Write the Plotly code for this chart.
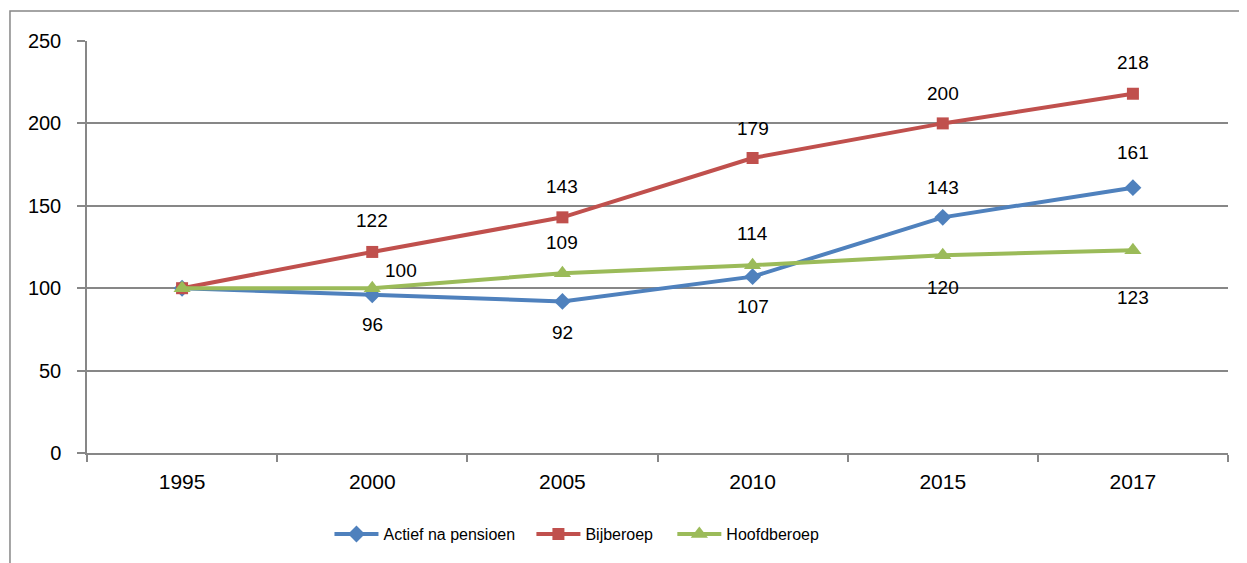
import plotly.graph_objects as go

years = ["1995", "2000", "2005", "2010", "2015", "2017"]
actief = [100, 96, 92, 107, 143, 161]
bijberoep = [100, 122, 143, 179, 200, 218]
hoofdberoep = [100, 100, 109, 114, 120, 123]

series_names = ["Actief na pensioen", "Bijberoep", "Hoofdberoep"]
series_values = [actief, bijberoep, hoofdberoep]
colors = ["#4F81BD", "#C0504D", "#9BBB59"]
symbols = ["diamond", "square", "triangle-up"]
msizes = [13, 12, 15]
legend_ids = ["legend", "legend2", "legend3"]
legend_x = [0.2125, 0.3895, 0.5130]

# label placement (styling): (xshift, yshift) per point; None = no label
label_shifts = [
    [None, (0, -30), (0, -31), (0, -30), (0, 30), (0, 35)],
    [None, (0, 31), (0, 31), (0, 30), (0, 30), (0, 31)],
    [None, (29, 18), (0, 31), (0, 32), (0, -32), (0, -47)],
]

FONT = "Liberation Sans, Arial, sans-serif"

fig = go.Figure()
for name, vals, c, s, ms, lg in zip(series_names, series_values, colors, symbols, msizes, legend_ids):
    fig.add_trace(go.Scatter(
        x=years, y=vals, name=name, mode="lines+markers",
        line=dict(color=c, width=4),
        marker=dict(symbol=s, size=ms, color=c),
        legend=lg,
    ))

annotations = []
for vals, shifts in zip(series_values, label_shifts):
    for i, (v, sh) in enumerate(zip(vals, shifts)):
        if sh is None:
            continue
        annotations.append(dict(
            x=i, y=v, xref="x", yref="y", text=str(v), showarrow=False,
            xshift=sh[0], yshift=sh[1],
            font=dict(family=FONT, size=19, color="#000000"),
        ))

grid = "#878787"
legend_common = dict(orientation="h", xanchor="left", y=-0.197, yanchor="middle",
                     font=dict(size=16, family=FONT), bgcolor="rgba(0,0,0,0)",
                     itemwidth=44)
layout_legends = {}
for lg, lx in zip(legend_ids, legend_x):
    d = dict(legend_common)
    d["x"] = lx
    layout_legends[lg] = d

fig.update_layout(
    width=1239, height=555,
    margin=dict(l=79, r=19, t=33, b=110),
    paper_bgcolor="white", plot_bgcolor="white",
    font=dict(family=FONT, color="#000000"),
    showlegend=True,
    annotations=annotations,
    shapes=[dict(type="rect", xref="paper", yref="paper",
                 x0=-0.0675, x1=1.03, y0=-0.30, y1=1.0728,
                 line=dict(color=grid, width=1.5), fillcolor="rgba(0,0,0,0)", layer="below")],
    **layout_legends,
)
fig.update_xaxes(
    type="category", tickson="boundaries", ticks="outside", ticklen=7, tickcolor=grid,
    tickwidth=1.5, showline=True, linecolor=grid, linewidth=1.5, showgrid=False,
    tickfont=dict(size=21), range=[-0.5, 5.5], ticklabelstandoff=9,
)
fig.update_yaxes(
    range=[0, 250], tickvals=[0, 50, 100, 150, 200, 250], ticks="outside", ticklen=8,
    tickcolor=grid, tickwidth=1.5, showline=True, linecolor=grid, linewidth=1.5,
    showgrid=True, gridcolor=grid, gridwidth=1.5, zeroline=False,
    tickfont=dict(size=20), ticklabelstandoff=12,
)
fig.write_html("out.html")
